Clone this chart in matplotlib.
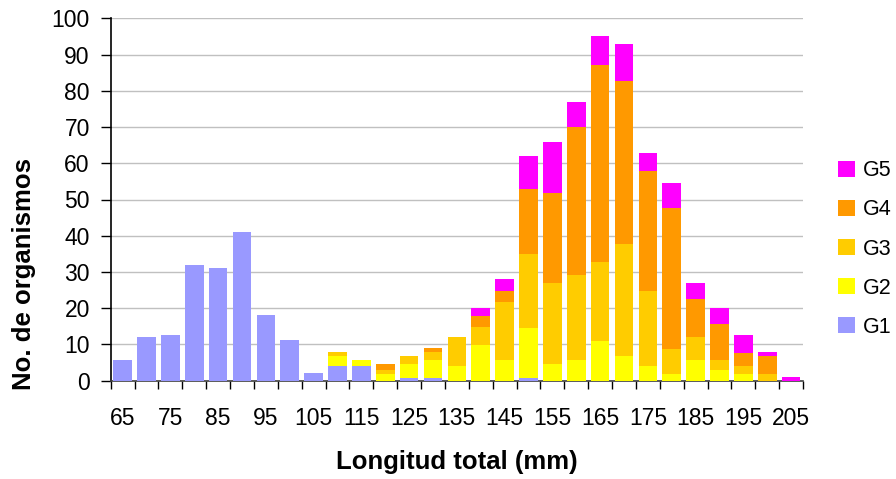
import matplotlib
matplotlib.use("Agg")
import matplotlib.pyplot as plt
import numpy as np

plt.rcParams['font.family'] = ['Liberation Sans', 'DejaVu Sans']

categories = [65, 70, 75, 80, 85, 90, 95, 100, 105, 110, 115, 120, 125, 130, 135,
              140, 145, 150, 155, 160, 165, 170, 175, 180, 185, 190, 195, 200, 205]
tick_labels = ['65', '', '75', '', '85', '', '95', '', '105', '', '115', '', '125', '',
               '135', '', '145', '', '155', '', '165', '', '175', '', '185', '', '195',
               '', '205']

g1 = [5.7, 12.0, 12.6, 32.0, 31.0, 41.0, 18.1, 11.2, 2.1, 4.0, 4.0, 0, 0.7, 0.7, 0,
      0, 0, 0.7, 0, 0, 0, 0, 0, 0, 0, 0, 0, 0, 0]
g2 = [0, 0, 0, 0, 0, 0, 0, 0, 0, 2.8, 1.7, 1.8, 3.9, 5.0, 4.0,
      9.8, 5.7, 13.8, 4.6, 5.7, 10.9, 6.8, 4.0, 1.8, 5.7, 2.9, 1.8, 0, 0]
g3 = [0, 0, 0, 0, 0, 0, 0, 0, 0, 1.1, 0, 1.1, 2.2, 2.2, 8.0,
      5.0, 16.0, 20.5, 22.4, 23.5, 21.9, 30.9, 20.7, 6.9, 6.3, 2.8, 2.2, 1.8, 0]
g4 = [0, 0, 0, 0, 0, 0, 0, 0, 0, 0, 0, 1.7, 0, 1.1, 0,
      3.0, 3.0, 17.9, 24.8, 40.8, 54.3, 45.0, 33.2, 39.0, 10.5, 9.9, 3.6, 5.0, 0]
g5 = [0, 0, 0, 0, 0, 0, 0, 0, 0, 0, 0, 0, 0, 0, 0,
      2.3, 3.4, 9.1, 14.1, 6.9, 8.0, 10.2, 4.9, 6.9, 4.5, 4.5, 5.0, 1.1, 1.0]

series = [('G1', g1, '#9999FF'), ('G2', g2, '#FFFF00'), ('G3', g3, '#FFCC00'),
          ('G4', g4, '#FF9900'), ('G5', g5, '#FF00FF')]

fig = plt.figure(figsize=(8.96, 4.79), dpi=100)
ax = fig.add_axes([110.7 / 896, 1 - 380.7 / 479, (803 - 110.7) / 896, (380.7 - 18.3) / 479])

x = np.arange(len(categories))
bottom = np.zeros(len(categories))
handles = []
for name, vals, col in series:
    v = np.array(vals, dtype=float)
    h = ax.bar(x, v, width=0.78, bottom=bottom, color=col, label=name, zorder=3)
    handles.append(h)
    bottom += v

ax.set_xlim(-0.5, len(categories) - 0.5)
ax.set_ylim(0, 100)
ax.set_yticks(np.arange(0, 101, 10))
ax.yaxis.grid(True, color='#C0C0C0', linewidth=1.0, zorder=0)
ax.set_axisbelow(True)

ax.set_xticks(np.arange(-0.5, len(categories), 1.0))
ax.set_xticklabels([])
ax.set_xticks(x, minor=True)
ax.set_xticklabels(tick_labels, minor=True)
ax.tick_params(axis='x', which='major', length=6, width=1, color='black', direction='out')
ax.tick_params(axis='x', which='minor', length=0, pad=19, labelsize=16.5)
ax.tick_params(axis='y', length=7, width=1, color='black', direction='out', pad=8, labelsize=16.5)

for s in ['top', 'right']:
    ax.spines[s].set_visible(False)
ax.spines['left'].set_color('black')
ax.spines['bottom'].set_color('#404040')
ax.spines['left'].set_linewidth(1.2)
ax.spines['bottom'].set_linewidth(1.2)

fig.text(457 / 896, 1 - 462 / 479, 'Longitud total (mm)', ha='center', va='center',
         fontsize=18.5, fontweight='bold')
fig.text(24 / 896, 1 - 273.5 / 479, 'No. de organismos', ha='center', va='center',
         rotation=90, fontsize=18.5, fontweight='bold')

leg = fig.legend(handles[::-1], [s[0] for s in series][::-1],
                 loc='center left', bbox_to_anchor=(838 / 896, 1 - 249 / 479),
                 frameon=False, fontsize=15.5, handlelength=0.8, handleheight=0.8,
                 labelspacing=0.84, handletextpad=0.35, borderaxespad=0, borderpad=0)

fig.savefig('out.png', dpi=100)
